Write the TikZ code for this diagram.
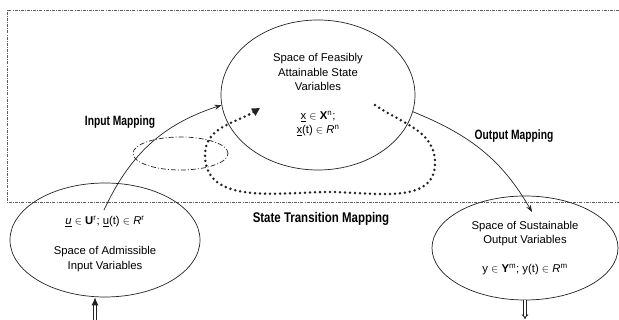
\documentclass[tikz,border=0pt]{standalone}
\usepackage{fontspec}
\setmainfont{Liberation Sans}
\newfontfamily\narrowbold[FakeStretch=0.76]{Liberation Sans}
\newfontfamily\widebold[FakeStretch=0.82]{Liberation Sans}
\usepackage{tikz}
\usetikzlibrary{arrows.meta,shapes.geometric}
\definecolor{inkline}{RGB}{35,35,35}
\definecolor{framegray}{RGB}{95,95,95}
\tikzset{
  statespace/.style={ellipse,draw=inkline,line width=0.7pt,inner sep=0pt,
    align=center,font=\fontsize{11.3}{14.5}\selectfont},
  maparc/.style={-{Stealth[length=7pt,width=5pt]},line width=0.7pt,inkline},
  looparc/.style={-{Triangle[length=8pt,width=8pt]},line width=2.8pt,
    dash pattern=on 0pt off 5pt,line cap=round,inkline},
  flowarc/.style={double=white,double distance=1.3pt,line width=0.9pt,draw=inkline},
  dashframe/.style={framegray,line width=0.6pt,dash pattern=on 3pt off 1.2pt on 0.8pt off 1.2pt},
  maplabel/.style={font=\narrowbold\bfseries\fontsize{13.5}{15}\selectfont}
}

\begin{document}
\begin{tikzpicture}[x=1pt,y=1pt]
  \useasboundingbox (0,0) rectangle (619,320);

  \draw[dashframe] (619,310) -- (7,310) -- (7,118) -- (619,118);

  \node[statespace,minimum width=194pt,minimum height=150pt] (spaceX) at (318,225)
    {Space of Feasibly\\Attainable State\\Variables\\[14pt]
     \underline{x} $\in$ \textbf{X}\textsuperscript{n};\\
     \underline{x}(t) $\in$ \textit{R}\textsuperscript{n}};
  \node[statespace,minimum width=190pt,minimum height=114pt] (spaceU) at (105,80)
    {\mbox{}\\[1.5pt]
     \underline{\textit{u}} $\in$ \textbf{U}\textsuperscript{r}; \underline{u}(t) $\in$ \textit{R}\textsuperscript{r}\\[16pt]
     Space of Admissible\\Input Variables};
  \node[statespace,minimum width=186pt,minimum height=104pt] (spaceY) at (525,72)
    {Space of Sustainable\\Output Variables\\[14pt]
     y $\in$ \textbf{Y}\textsuperscript{m}; y(t) $\in$ \textit{R}\textsuperscript{m}};
  \node[ellipse,draw=inkline,line width=0.7pt,dash pattern=on 5pt off 2pt on 1pt off 2pt,
    minimum width=95pt,minimum height=33pt] (loopmark) at (180.5,166.5) {};

  \node[maplabel] (inlabel) at (120,198) {Input Mapping};
  \node[maplabel] (outlabel) at (514,184) {Output Mapping};
  \node[maplabel,font=\widebold\bfseries\fontsize{14}{16}\selectfont] (translabel) at (321,101) {State Transition Mapping};

  \coordinate (uin) at (104,110);
  \coordinate (yin) at (532,108);
  \coordinate (tstart) at (375,215);
  \coordinate (tend) at (260,212);
  \coordinate (uext) at (95,0);
  \coordinate (yext) at (525,1);

  \draw[maparc] (uin) to[out=65,in=198] (spaceX.186);
  \draw[maparc] (spaceX.-10) to[out=-22,in=120] (yin);
  \draw[looparc] (tstart) to[out=-35,in=90] (435,157) to[out=-90,in=0] (330,128)
    to[out=180,in=-90] (205,165) to[out=90,in=-148] (tend);
  \draw[flowarc,-{Latex[length=8pt,width=7pt]}] (uext) -- (uext |- spaceU.south);
  \draw[flowarc,-{Implies[length=5pt]}] (spaceY.south) -- (yext);
\end{tikzpicture}
\end{document}
